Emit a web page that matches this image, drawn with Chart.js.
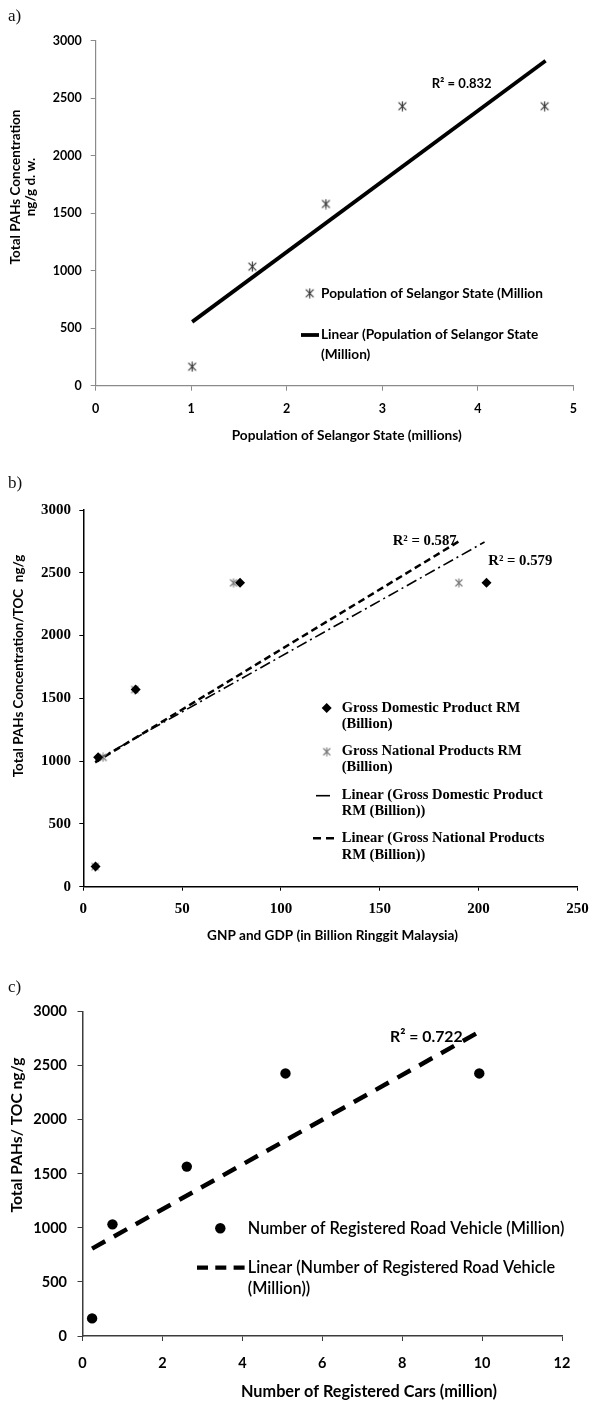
<!DOCTYPE html>
<html>
<head>
<meta charset="utf-8">
<script src="https://cdn.jsdelivr.net/npm/chart.js@4.4.1/dist/chart.umd.min.js"></script>
<style>
html,body{margin:0;padding:0;background:#fff;}
body{width:598px;height:1403px;position:relative;overflow:hidden;}
canvas{position:absolute;left:0;}
.plabel{position:absolute;left:8px;font:17px 'Liberation Serif','Times New Roman',serif;color:#111;line-height:17px;}
</style>
</head>
<body>
<canvas id="ca" width="598" height="455" style="top:0px"></canvas>
<canvas id="cb" width="598" height="490" style="top:455px"></canvas>
<canvas id="cc" width="598" height="458" style="top:945px"></canvas>
<div class="plabel" style="top:7px">a)</div>
<div class="plabel" style="top:474px">b)</div>
<div class="plabel" style="top:978px">c)</div>
<script>
// ================= DATA =================
// Panel a
const popMillions = [1.01, 1.64, 2.41, 3.21, 4.70];
const pahA        = [165, 1035, 1580, 2430, 2430];
const trendAX     = [1.01, 4.71];
const trendAY     = [555, 2825];
const xTicksA     = [0, 1, 2, 3, 4, 5];

// Panel b
const gdpBillion  = [6.2, 7.5, 26.5, 79.3, 204];
const gnpBillion  = [6.0, 10.0, 26.0, 76.0, 190];
const pahB        = [160, 1030, 1570, 2420, 2420];
const trendGdpX   = [6.2, 203];
const trendGdpY   = [1005, 2745];
const trendGnpX   = [6.0, 190];
const trendGnpY   = [990, 2750];
const xTicksB     = [0, 50, 100, 150, 200, 250];

// Panel c
const carsMillion = [0.24, 0.75, 2.61, 5.08, 9.93];
const pahC        = [163, 1033, 1567, 2429, 2429];
const trendCX     = [0.24, 9.93];
const trendCY     = [808, 2814];
const xTicksC     = [0, 2, 4, 6, 8, 10, 12];

const yTicks      = [0, 500, 1000, 1500, 2000, 2500, 3000];

// Labels
const seriesA      = "Population of Selangor State (Million";
const trendA       = ["Linear (Population of Selangor State", "(Million)"];
const r2A          = "R\u00B2 = 0.832";
const xTitleA      = "Population of Selangor State (millions)";
const yTitleA      = ["Total PAHs Concentration", "ng/g d. w."];

const seriesGdp    = ["Gross Domestic Product RM", "(Billion)"];
const seriesGnp    = ["Gross National Products RM", "(Billion)"];
const trendGdp     = ["Linear (Gross Domestic Product", "RM (Billion))"];
const trendGnp     = ["Linear (Gross National Products", "RM (Billion))"];
const r2Gnp        = "R\u00B2 = 0.587";
const r2Gdp        = "R\u00B2 = 0.579";
const xTitleB      = "GNP and GDP (in Billion Ringgit Malaysia)";
const yTitleB      = "Total PAHs Concentration/TOC  ng/g";

const seriesC      = "Number of Registered Road Vehicle (Million)";
const trendC       = ["Linear (Number of Registered Road Vehicle", "(Million))"];
const r2C          = "R\u00B2 = 0.722";
const xTitleC      = "Number of Registered Cars (million)";
const yTitleC      = "Total PAHs/ TOC ng/g";

// ================= HELPERS =================
const SANS = "Lato, 'Open Sans', sans-serif";
const SERIF = "'Liberation Serif', 'Times New Roman', serif";
const fstr = (w, s, f) => `${w} ${s}px ${f}`;

function fitSize(ctx, s, weight, family, w) {
  ctx.save();
  ctx.font = fstr(weight, 20, family);
  const m = ctx.measureText(s).width;
  ctx.restore();
  return 20 * w / m;
}
function text(ctx, s, x, y, font, opt) {
  opt = opt || {};
  ctx.save();
  ctx.font = font;
  ctx.fillStyle = opt.color || '#000';
  ctx.textBaseline = 'middle';
  ctx.textAlign = opt.align || 'left';
  if (opt.rot) { ctx.translate(x, y); ctx.rotate(-Math.PI / 2); ctx.fillText(s, 0, 0); }
  else ctx.fillText(s, x, y);
  ctx.restore();
}
function seg(ctx, x1, x2, y, color, w, dash) {
  ctx.save();
  ctx.strokeStyle = color; ctx.lineWidth = w; ctx.setLineDash(dash || []);
  ctx.beginPath(); ctx.moveTo(x1, y); ctx.lineTo(x2, y); ctx.stroke();
  ctx.restore();
}
function makeStar(size, color, lw) {
  const c = document.createElement('canvas');
  c.width = size; c.height = size;
  const g = c.getContext('2d');
  g.strokeStyle = color; g.lineWidth = lw;
  const m = size / 2, r = size / 2 - 0.5, d = r * 0.78;
  g.beginPath();
  g.moveTo(m, m - r); g.lineTo(m, m + r);
  g.moveTo(m - d, m - d); g.lineTo(m + d, m + d);
  g.moveTo(m + d, m - d); g.lineTo(m - d, m + d);
  g.stroke();
  return c;
}
const pts = (xs, ys) => xs.map((x, i) => ({x: x, y: ys[i]}));
const fmt = v => String(v);

function xScale(ticks, font, pad, tl, color, bw, height) {
  return {
    type: 'linear', min: ticks[0], max: ticks[ticks.length - 1],
    ticks: {stepSize: ticks[1] - ticks[0], font: font, color: '#000', padding: pad, maxRotation: 0, autoSkip: false, callback: fmt},
    grid: {display: true, drawOnChartArea: false, drawTicks: true, tickLength: tl, color: color, lineWidth: 1},
    border: {display: true, color: color, width: bw},
    afterFit: s => { s.height = height; }
  };
}
function yScale(ticks, font, pad, tl, color, bw, width) {
  return {
    type: 'linear', min: ticks[0], max: ticks[ticks.length - 1],
    ticks: {stepSize: ticks[1] - ticks[0], font: font, color: '#000', padding: pad, autoSkip: false, callback: fmt},
    grid: {display: true, drawOnChartArea: false, drawTicks: true, tickLength: tl, color: color, lineWidth: 1},
    border: {display: true, color: color, width: bw},
    afterFit: s => { s.width = width; }
  };
}
const baseOpts = {responsive: false, animation: false, events: [], devicePixelRatio: 1};
const noLegend = {legend: {display: false}, tooltip: {enabled: false}};

// ================= PANEL A =================
const starA = makeStar(11, '#3a3a3a', 1.2);
new Chart(document.getElementById('ca'), {
  type: 'scatter',
  data: {datasets: [
    {label: seriesA, data: pts(popMillions, pahA), pointStyle: starA, pointRadius: 5, showLine: false, order: 0},
    {label: trendA.join(' '), data: pts(trendAX, trendAY), showLine: true, pointRadius: 0, borderColor: '#000', borderWidth: 3.8, order: 1}
  ]},
  options: Object.assign({}, baseOpts, {
    layout: {padding: {left: 5.7, right: 24.7, top: 40.7, bottom: 29.3}},
    plugins: noLegend,
    scales: {
      x: xScale(xTicksA, {family: SANS, weight: 'bold', size: 12.5}, 10.5, 5, '#8a8a8a', 1.2, 40),
      y: yScale(yTicks, {family: SANS, weight: 'bold', size: 12.5}, 9, 5, '#8a8a8a', 1.2, 90)
    }
  }),
  plugins: [{id: 'decorA', afterDraw(chart) {
    const ctx = chart.ctx;
    const rs = fitSize(ctx, r2A, 'bold', SANS, 60);
    text(ctx, r2A, 431.7, 84.3, fstr('bold', rs, SANS));
    const ls = fitSize(ctx, seriesA, 'bold', SANS, 222);
    const lf = fstr('bold', ls, SANS);
    ctx.drawImage(starA, 309.7 - 5.5, 293.3 - 5.5);
    text(ctx, seriesA, 321, 293.3, lf);
    seg(ctx, 301, 319, 335, '#000', 3.8);
    text(ctx, trendA[0], 321, 335, lf);
    text(ctx, trendA[1], 321, 355, lf);
    text(ctx, xTitleA, 231.7, 436, fstr('bold', ls, SANS));
    const ys = fitSize(ctx, yTitleA[0], 'bold', SANS, 155);
    text(ctx, yTitleA[0], 16, 187, fstr('bold', ys, SANS), {rot: true, align: 'center'});
    text(ctx, yTitleA[1], 31, 187, fstr('bold', ys, SANS), {rot: true, align: 'center'});
  }}]
});

// ================= PANEL B =================
const starB = makeStar(10, '#7a7a7a', 1.1);
const dashDot = [11, 4, 2, 4];
const dashGnp = [7, 4];
new Chart(document.getElementById('cb'), {
  type: 'scatter',
  data: {datasets: [
    {label: seriesGdp.join(' '), data: pts(gdpBillion, pahB), pointStyle: 'rectRot', pointRadius: 5, backgroundColor: '#000', borderColor: '#000', borderWidth: 0, showLine: false, order: 0},
    {label: seriesGnp.join(' '), data: pts(gnpBillion, pahB), pointStyle: starB, pointRadius: 5, showLine: false, order: 1},
    {label: trendGdp.join(' '), data: pts(trendGdpX, trendGdpY), showLine: true, pointRadius: 0, borderColor: '#000', borderWidth: 1.6, borderDash: dashDot, order: 2},
    {label: trendGnp.join(' '), data: pts(trendGnpX, trendGnpY), showLine: true, pointRadius: 0, borderColor: '#000', borderWidth: 2.5, borderDash: dashGnp, order: 3}
  ]},
  options: Object.assign({}, baseOpts, {
    layout: {padding: {left: 3.3, right: 14, top: 55, bottom: 18.3}},
    plugins: noLegend,
    scales: {
      x: xScale(xTicksB, {family: SERIF, weight: 'bold', size: 15}, 9.3, 4, '#000', 1.5, 40),
      y: yScale(yTicks, {family: SERIF, weight: 'bold', size: 15}, 8.3, 4, '#000', 1.5, 80)
    }
  }),
  plugins: [{id: 'decorB', afterDraw(chart) {
    const ctx = chart.ctx;
    const rs = fitSize(ctx, r2Gnp, 'bold', SERIF, 64);
    text(ctx, r2Gnp, 392.7, 86, fstr('bold', rs, SERIF));
    text(ctx, r2Gdp, 488.3, 105.7, fstr('bold', rs, SERIF));
    const ls = fitSize(ctx, trendGnp[0], 'bold', SERIF, 203);
    const lf = fstr('bold', ls, SERIF);
    ctx.save(); ctx.fillStyle = '#000'; ctx.beginPath();
    ctx.moveTo(326.7, 248); ctx.lineTo(331.7, 253); ctx.lineTo(326.7, 258); ctx.lineTo(321.7, 253); ctx.closePath(); ctx.fill(); ctx.restore();
    text(ctx, seriesGdp[0], 341.7, 253, lf);
    text(ctx, seriesGdp[1], 341.7, 269.3, lf);
    ctx.drawImage(starB, 326.7 - 5, 296.7 - 5);
    text(ctx, seriesGnp[0], 341.7, 296.7, lf);
    text(ctx, seriesGnp[1], 341.7, 312.7, lf);
    seg(ctx, 316, 330, 340.7, '#000', 1.6);
    text(ctx, trendGdp[0], 341.7, 340.7, lf);
    text(ctx, trendGdp[1], 341.7, 356.7, lf);
    seg(ctx, 313, 338, 383.3, '#000', 2.5, [8, 5]);
    text(ctx, trendGnp[0], 341.7, 383.3, lf);
    text(ctx, trendGnp[1], 341.7, 400, lf);
    const xs = fitSize(ctx, xTitleB, 'bold', SANS, 251);
    text(ctx, xTitleB, 332.5, 481, fstr('bold', xs, SANS), {align: 'center'});
    const ys = fitSize(ctx, yTitleB, 'bold', SANS, 223);
    text(ctx, yTitleB, 19, 211, fstr('bold', ys, SANS), {rot: true, align: 'center'});
  }}]
});

// ================= PANEL C =================
const dashC = [15, 10];
new Chart(document.getElementById('cc'), {
  type: 'scatter',
  data: {datasets: [
    {label: seriesC, data: pts(carsMillion, pahC), pointStyle: 'circle', pointRadius: 5.2, backgroundColor: '#000', borderColor: '#000', borderWidth: 0, showLine: false, order: 0},
    {label: trendC.join(' '), data: pts(trendCX, trendCY), showLine: true, pointRadius: 0, borderColor: '#000', borderWidth: 4.5, borderDash: dashC, order: 1}
  ]},
  options: Object.assign({}, baseOpts, {
    layout: {padding: {left: 2.5, right: 36, top: 66.7, bottom: 27}},
    plugins: noLegend,
    scales: {
      x: xScale(xTicksC, {family: SANS, weight: 'bold', size: 14.5}, 14, 5, '#3c3c3c', 1.5, 40),
      y: yScale(yTicks, {family: SANS, weight: 'bold', size: 14.5}, 10.5, 5, '#3c3c3c', 1.5, 80)
    }
  }),
  plugins: [{id: 'decorC', afterDraw(chart) {
    const ctx = chart.ctx;
    const rs = fitSize(ctx, r2C, 'bold', SANS, 72.7);
    text(ctx, r2C, 390, 91.7, fstr('bold', rs, SANS));
    const ls = fitSize(ctx, seriesC, '600', SANS, 317);
    const lf = fstr('600', ls, SANS);
    ctx.save(); ctx.fillStyle = '#000'; ctx.beginPath(); ctx.arc(220.3, 283.3, 5.2, 0, Math.PI * 2); ctx.fill(); ctx.restore();
    text(ctx, seriesC, 247.8, 283.3, lf);
    seg(ctx, 197, 244.7, 322.7, '#000', 4.2, [11, 7.3]);
    text(ctx, trendC[0], 247.8, 322.7, lf);
    text(ctx, trendC[1], 247.8, 343.3, lf);
    const xs = fitSize(ctx, xTitleC, 'bold', SANS, 256);
    text(ctx, xTitleC, 241, 446.7, fstr('bold', xs, SANS));
    const ys = fitSize(ctx, yTitleC, 'bold', SANS, 155);
    text(ctx, yTitleC, 17, 190, fstr('bold', ys, SANS), {rot: true, align: 'center'});
  }}]
});
</script>
</body>
</html>
